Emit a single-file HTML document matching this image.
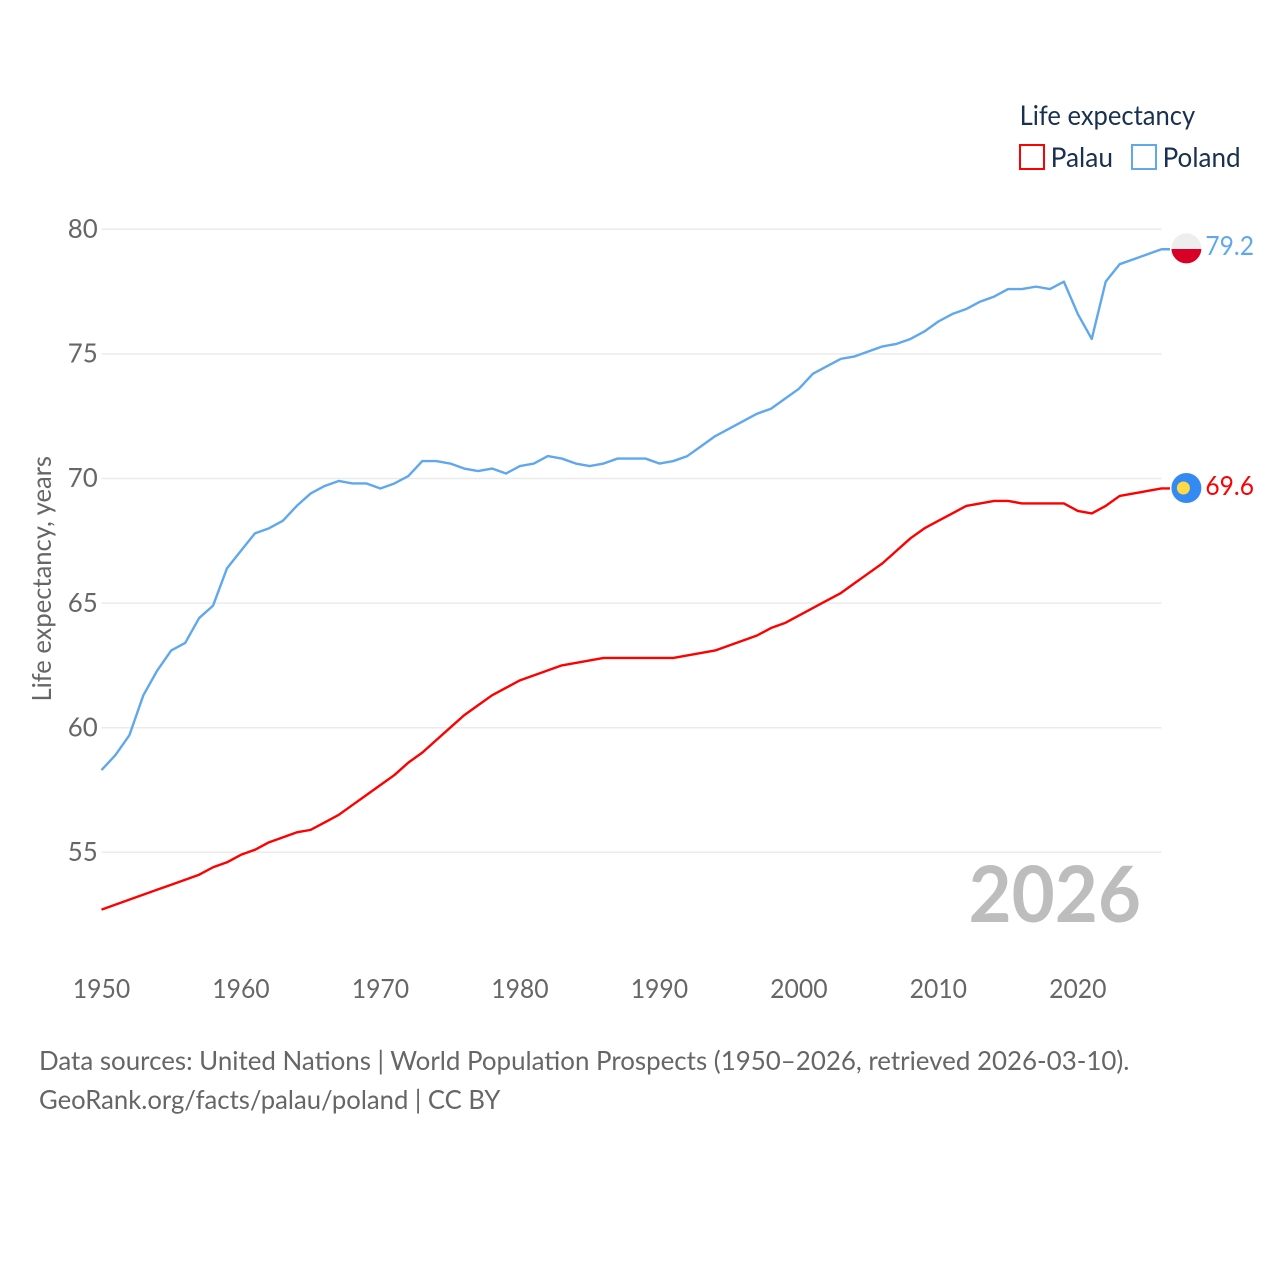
<!DOCTYPE html>
<html lang="en">
<head>
<meta charset="utf-8">
<title>Life expectancy: Palau and Poland</title>
<style>
html,body{margin:0;padding:0;background:#fff;}
svg{display:block;}
text{font-family:"Lato","Carlito","Liberation Sans",sans-serif;}
</style>
</head>
<body>
<svg id="chart" width="1280" height="1280" viewBox="0 0 1280 1280" xmlns="http://www.w3.org/2000/svg">
  <rect x="0" y="0" width="1280" height="1280" fill="#fff"/>
  <g id="grid"></g>
  <g id="yticks"></g>
  <g id="xticks"></g>
  <text transform="translate(51,701.5) rotate(-90)" font-size="26" fill="#666" textLength="245.5" lengthAdjust="spacingAndGlyphs">Life expectancy, years</text>
  <text x="968.5" y="922" font-size="78" font-weight="700" fill="#bdbdbd" textLength="172.5" lengthAdjust="spacingAndGlyphs">2026</text>
  <g id="series"></g>

  <g>
    <clipPath id="pl-clip"><circle cx="1186.4" cy="248.4" r="15"/></clipPath>
    <g clip-path="url(#pl-clip)">
      <rect x="1171" y="233" width="31" height="16" fill="#eeeeee"/>
      <rect x="1171" y="249" width="31" height="15" fill="#d80027"/>
    </g>
  </g>
  <g>
    <circle cx="1186.4" cy="488" r="15" fill="#338af3"/>
    <circle cx="1183.4" cy="488" r="6.5" fill="#ffda44"/>
  </g>
  <text x="1205.4" y="255" font-size="26" fill="#5fa8ee" textLength="48.6" lengthAdjust="spacingAndGlyphs">79.2</text>
  <text x="1205.4" y="495" font-size="26" fill="#ff0000" textLength="48.6" lengthAdjust="spacingAndGlyphs">69.6</text>

  <g>
    <text x="1019.6" y="125" font-size="27" fill="#1a3050" textLength="175.6" lengthAdjust="spacingAndGlyphs">Life expectancy</text>
    <g>
      <rect x="1020" y="145" width="24" height="24" fill="#fff" stroke="#ff0000" stroke-width="2"/>
      <text x="1050.6" y="167" font-size="27" fill="#1a3050" textLength="62.4" lengthAdjust="spacingAndGlyphs">Palau</text>
    </g>
    <g>
      <rect x="1132" y="145" width="24" height="24" fill="#fff" stroke="#5fa8ee" stroke-width="2"/>
      <text x="1162.6" y="167" font-size="27" fill="#1a3050" textLength="78" lengthAdjust="spacingAndGlyphs">Poland</text>
    </g>
  </g>

  <text x="39" y="1070" font-size="26" fill="#666" textLength="1090.4" lengthAdjust="spacingAndGlyphs">Data sources: United Nations | World Population Prospects (1950–2026, retrieved 2026-03-10).</text>
  <text x="39" y="1109" font-size="26" fill="#666" textLength="461.4" lengthAdjust="spacingAndGlyphs">GeoRank.org/facts/palau/poland | CC BY</text>
</svg>
<script>
const startYear = 1950;
const xTickYears = [1950, 1960, 1970, 1980, 1990, 2000, 2010, 2020];
const yTickValues = [55, 60, 65, 70, 75, 80];
const polandValues = [58.3,58.9,59.7,61.3,62.3,63.1,63.4,64.4,64.9,66.4,67.1,67.8,68.0,68.3,68.9,69.4,69.7,69.9,69.8,69.8,69.6,69.8,70.1,70.7,70.7,70.6,70.4,70.3,70.4,70.2,70.5,70.6,70.9,70.8,70.6,70.5,70.6,70.8,70.8,70.8,70.6,70.7,70.9,71.3,71.7,72.0,72.3,72.6,72.8,73.2,73.6,74.2,74.5,74.8,74.9,75.1,75.3,75.4,75.6,75.9,76.3,76.6,76.8,77.1,77.3,77.6,77.6,77.7,77.6,77.9,76.6,75.6,77.9,78.6,78.8,79.0,79.2];
const palauValues = [52.7,52.9,53.1,53.3,53.5,53.7,53.9,54.1,54.4,54.6,54.9,55.1,55.4,55.6,55.8,55.9,56.2,56.5,56.9,57.3,57.7,58.1,58.6,59.0,59.5,60.0,60.5,60.9,61.3,61.6,61.9,62.1,62.3,62.5,62.6,62.7,62.8,62.8,62.8,62.8,62.8,62.8,62.9,63.0,63.1,63.3,63.5,63.7,64.0,64.2,64.5,64.8,65.1,65.4,65.8,66.2,66.6,67.1,67.6,68.0,68.3,68.6,68.9,69.0,69.1,69.1,69.0,69.0,69.0,69.0,68.7,68.6,68.9,69.3,69.4,69.5,69.6];

const NS = 'http://www.w3.org/2000/svg';
const plotLeft = 101.5, plotRight = 1161.5, endYear = 2026;
const xScale = year => plotLeft + (year - startYear) * (plotRight - plotLeft) / (endYear - startYear);
const yScale = value => 229.3 + (80 - value) * 24.92;

function make(tag, attrs, parent) {
  const el = document.createElementNS(NS, tag);
  for (const key in attrs) el.setAttribute(key, attrs[key]);
  parent.appendChild(el);
  return el;
}

const grid = document.getElementById('grid');
const yticks = document.getElementById('yticks');
const xticks = document.getElementById('xticks');
const series = document.getElementById('series');

yTickValues.forEach(value => {
  const line = make('line', {x1: plotLeft, x2: plotRight, y1: yScale(value), y2: yScale(value), stroke: '#ebebeb', 'stroke-width': 1.5}, grid);
  
  
  const label = make('text', {x: 97.8, y: yScale(value) + 8.7, 'text-anchor': 'end', 'font-size': 26, fill: '#666', textLength: 30, lengthAdjust: 'spacingAndGlyphs'}, yticks);
  
  
  label.textContent = value;
});

xTickYears.forEach(year => {
  const label = make('text', {x: xScale(year), y: 998, 'text-anchor': 'middle', 'font-size': 26, fill: '#666', textLength: 57.4, lengthAdjust: 'spacingAndGlyphs'}, xticks);
  
  
  label.textContent = year;
});

function drawSeries(values, color, name) {
  const pts = values.map((value, i) => xScale(startYear + i).toFixed(2) + ',' + yScale(value).toFixed(2));
  const last = values[values.length - 1];
  pts.push('1170,' + yScale(last).toFixed(2));
  const line = make('polyline', {points: pts.join(' '), fill: 'none', stroke: color, 'stroke-width': 2.4, 'stroke-linejoin': 'round'}, series);
  
  
}
drawSeries(palauValues, '#ff0000', 'palau-line');
drawSeries(polandValues, '#5fa8ee', 'poland-line');
</script>
</body>
</html>
